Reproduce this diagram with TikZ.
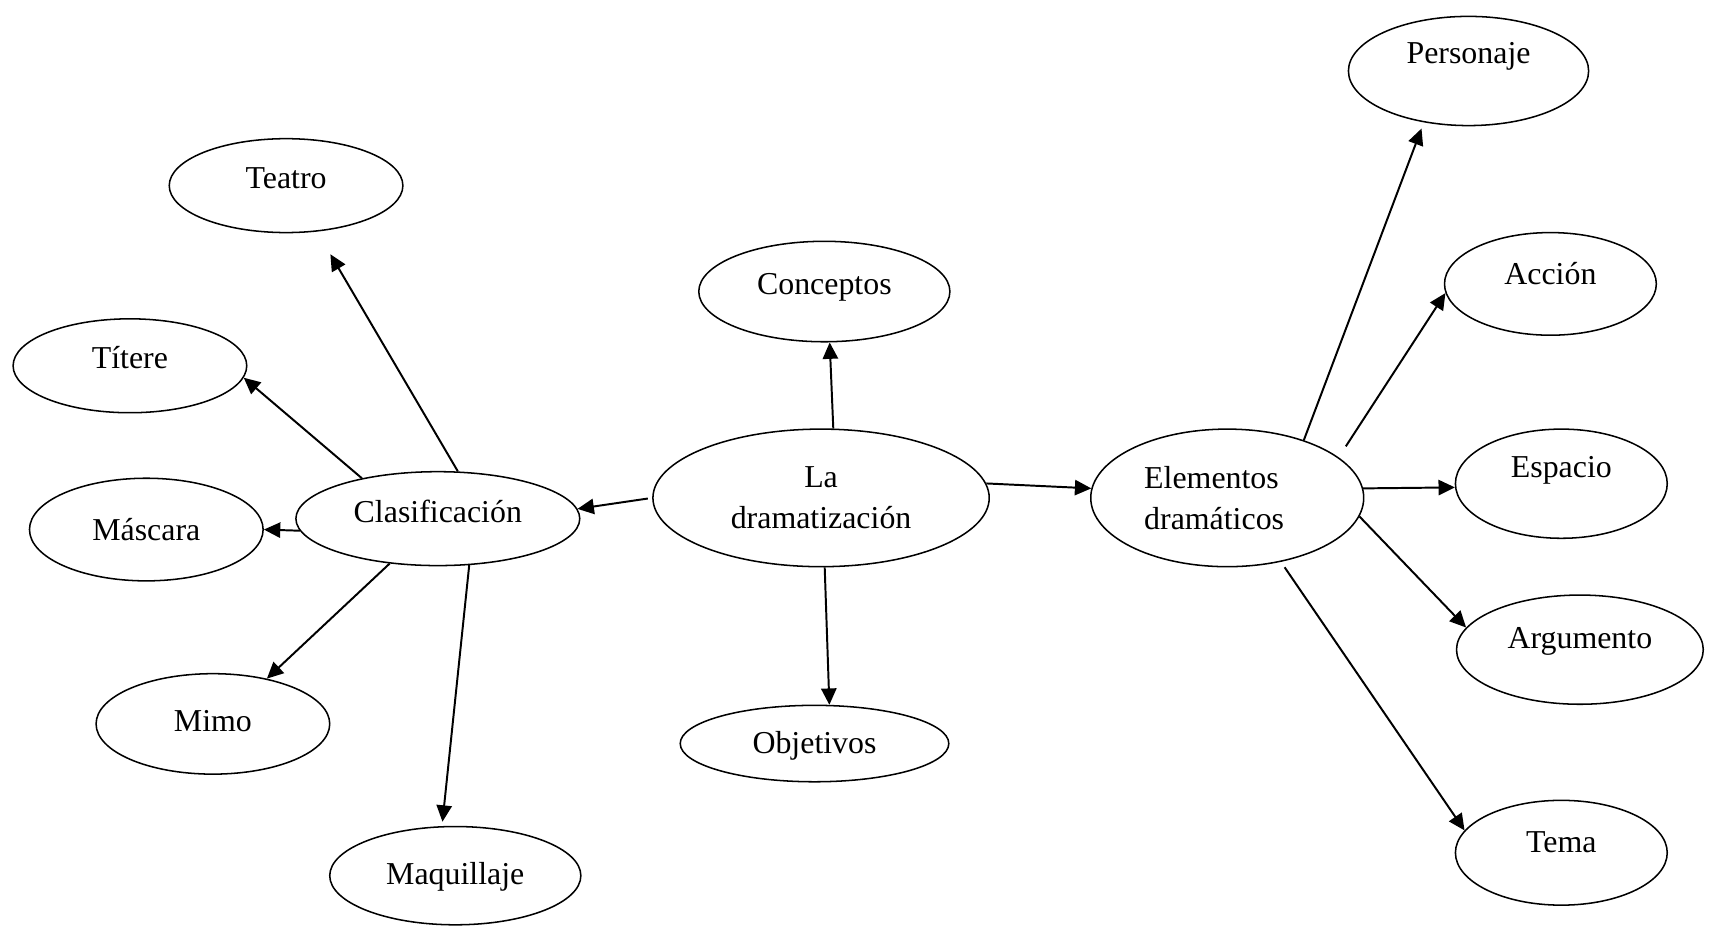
\documentclass[tikz,border=0pt]{standalone}
\usepackage{fontspec}
\setmainfont{Liberation Serif}
\usetikzlibrary{arrows.meta,shapes.geometric}

\begin{document}
\begin{tikzpicture}[x=0.5pt, y=-0.5pt,
    idea/.style={ellipse, draw, line width=0.7pt, inner sep=0pt,
        font=\fontsize{14.6}{19}\selectfont},
    one/.style={text height=11pt, text depth=#1},
    link/.style={-{Triangle[length=7.5pt, width=7pt]}, line width=0.9pt}]
    \useasboundingbox (0,0) rectangle (1568,848);
    % centro
    \node[idea, minimum width=154pt, minimum height=63pt, align=center] (dram) at (752,456) {La\\dramatización};
    \node[idea, one=8.3pt, minimum width=115pt, minimum height=46pt] (conc) at (755,267) {Conceptos};
    \node[idea, one=2.3pt, minimum width=123pt, minimum height=35pt] (obj) at (746,681) {Objetivos};
    % clasificacion (izquierda)
    \node[idea, one=7.3pt, minimum width=130pt, minimum height=43pt] (cla) at (401,475) {Clasificación};
    \node[idea, one=8.3pt, minimum width=107pt, minimum height=43pt] (teatro) at (262,170) {Teatro};
    \node[idea, one=8.3pt, minimum width=107pt, minimum height=43pt] (titere) at (119,335) {Títere};
    \node[idea, one=1.3pt, minimum width=107pt, minimum height=47pt] (mascara) at (134,485) {Máscara};
    \node[idea, one=4.3pt, minimum width=107pt, minimum height=46pt] (mimo) at (195,663) {Mimo};
    \node[idea, one=3.3pt, minimum width=115pt, minimum height=45pt] (maqui) at (417,802) {Maquillaje};
    % elementos (derecha)
    \node[idea, minimum width=125pt, minimum height=63pt, align=left] (elem) at (1124,456) {Elementos\\dramáticos\hspace*{12pt}};
    \node[idea, one=18.3pt, minimum width=110pt, minimum height=50pt] (pers) at (1345,65) {Personaje};
    \node[idea, one=10.3pt, minimum width=97pt, minimum height=47pt] (accion) at (1420,260) {Acción};
    \node[idea, one=16.3pt, minimum width=97pt, minimum height=50pt] (espacio) at (1430,443) {Espacio};
    \node[idea, one=12.3pt, minimum width=113pt, minimum height=50pt] (arg) at (1447,595) {Argumento};
    \node[idea, one=11.3pt, minimum width=97pt, minimum height=48pt] (tema) at (1430,781) {Tema};
    % flechas
    \draw[link, shorten <=2pt] (dram.west) -- (cla.4);
    \draw[link] (dram.80) -- (conc.276);
    \draw[link] (dram.273) -- (obj.69);
    \draw[link] (dram.5) -- (elem.176);
    \draw[link, shorten >=12pt] (cla.67) -- (teatro.304);
    \draw[link] (cla.152) -- (titere.354);
    \draw[link] (cla.185) -- (mascara.east);
    \draw[link] (cla.223) -- (mimo.40);
    \draw[link, shorten >=2pt] (cla.304) -- (maqui.105);
    \draw[link, shorten >=3pt] (elem.37) -- (pers.229);
    \draw[link, shorten <=6pt] (elem.20) -- (accion.185);
    \draw[link] (elem.4) -- (espacio.182);
    \draw[link] (elem.352) -- (arg.169);
    \draw[link, shorten <=3pt] (elem.310) -- (tema.167);
\end{tikzpicture}
\end{document}
